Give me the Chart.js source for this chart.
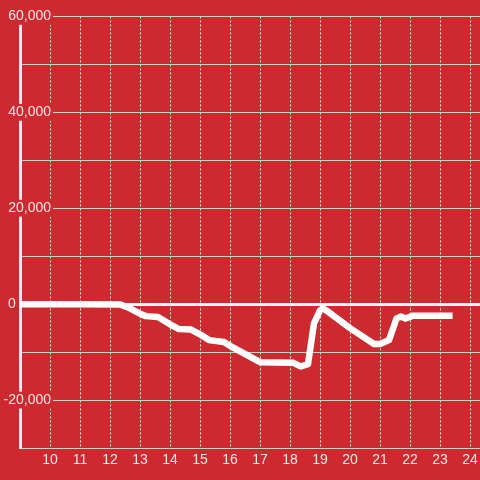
<!DOCTYPE html>
<html>
<head>
<meta charset="utf-8">
<script src="https://cdn.jsdelivr.net/npm/chart.js@4"></script>
<style>
  html, body { margin: 0; padding: 0; background: #cc2a2f; }
  #wrap { width: 480px; height: 480px; }
</style>
</head>
<body>
<div id="wrap"><canvas id="chart"></canvas></div>
<script>
// hour of day / running value
const hours  = [8.8, 11.0, 12.35, 12.6, 13.0, 13.2, 13.6, 14.0, 14.3, 14.7, 15.0, 15.3, 15.8, 16.0, 17.0, 18.1, 18.35, 18.6, 18.8, 19.0, 19.1, 19.3, 20.0, 20.8, 21.0, 21.3, 21.55, 21.7, 21.85, 22.1, 23.42];
const values = [0, 0, -100, -700, -2000, -2500, -2700, -4200, -5200, -5300, -6300, -7500, -7900, -8700, -12100, -12200, -13000, -12500, -4000, -1300, -900, -1700, -5000, -8300, -8300, -7500, -3000, -2600, -3000, -2400, -2400];

const xTickLabels = [10, 11, 12, 13, 14, 15, 16, 17, 18, 19, 20, 21, 22, 23, 24];
const yTickLabels = [60000, 40000, 20000, -20000];

const red = '#cc2a2f';
const textColor = 'rgba(255,255,255,0.88)';
const font = { family: 'Liberation Sans', size: 14 };

const fmt = v => v.toLocaleString('en-US');

// labels sit right-aligned at x=51, over the plot; work out the widest one
const m = document.createElement('canvas').getContext('2d');
m.font = '14px "Liberation Sans"';
const widest = Math.max(...yTickLabels.map(v => m.measureText(fmt(v)).width));

const ctx = document.getElementById('chart').getContext('2d');
const chart = new Chart(ctx, {
  type: 'line',
  data: {
    datasets: [{
      data: hours.map((h, i) => ({ x: h, y: values[i] })),
      borderColor: '#ffffff',
      borderWidth: 6.5,
      borderJoinStyle: 'round',
      pointRadius: 0,
      tension: 0,
      fill: false
    }]
  },
  options: {
    animation: false,
    responsive: true,
    maintainAspectRatio: false,
    layout: { padding: { top: 16, left: 0, right: 0, bottom: 0 } },
    plugins: { legend: { display: false }, tooltip: { enabled: false } },
    scales: {
      x: {
        type: 'linear',
        min: 9,
        max: 24 + 1 / 3,
        ticks: {
          stepSize: 1,
          includeBounds: false,
          autoSkip: false,
          maxRotation: 0,
          padding: 4,
          color: textColor,
          font: font,
          callback: v => xTickLabels.includes(v) ? String(v) : ''
        },
        grid: { color: '#e6e6e6', drawTicks: false },
        border: { color: '#cccccc', width: 1, dash: [2, 2] },
        afterFit: s => { s.height = 32; s.paddingLeft = 0; s.paddingRight = 0; }
      },
      y: {
        min: -30000,
        max: 60000,
        ticks: {
          stepSize: 10000,
          mirror: true,
          crossAlign: 'far',
          padding: 31 - widest,
          color: textColor,
          font: font,
          showLabelBackdrop: c => yTickLabels.includes(c.tick.value),
          backdropColor: red,
          backdropPadding: { top: 0, bottom: 0, left: 2, right: 2 },
          callback: v => yTickLabels.includes(v) ? fmt(v) : ''
        },
        grid: {
          drawTicks: false,
          color: c => c.tick && c.tick.value === 0 ? '#ffffff' : '#cccccc',
          lineWidth: c => c.tick && c.tick.value === 0 ? 3 : 1
        },
        border: { color: '#eeeeee', width: 3 },
        afterFit: s => { s.width = 20; }
      },
      yZero: {
        position: 'left',
        weight: 1,
        min: -30000,
        max: 60000,
        ticks: {
          stepSize: 10000,
          mirror: true,
          crossAlign: 'near',
          padding: 8,
          color: textColor,
          font: font,
          callback: v => v === 0 ? '0' : ''
        },
        grid: { display: false },
        border: { display: false },
        afterFit: s => { s.width = 0; }
      }
    }
  }
});
</script>
</body>
</html>
